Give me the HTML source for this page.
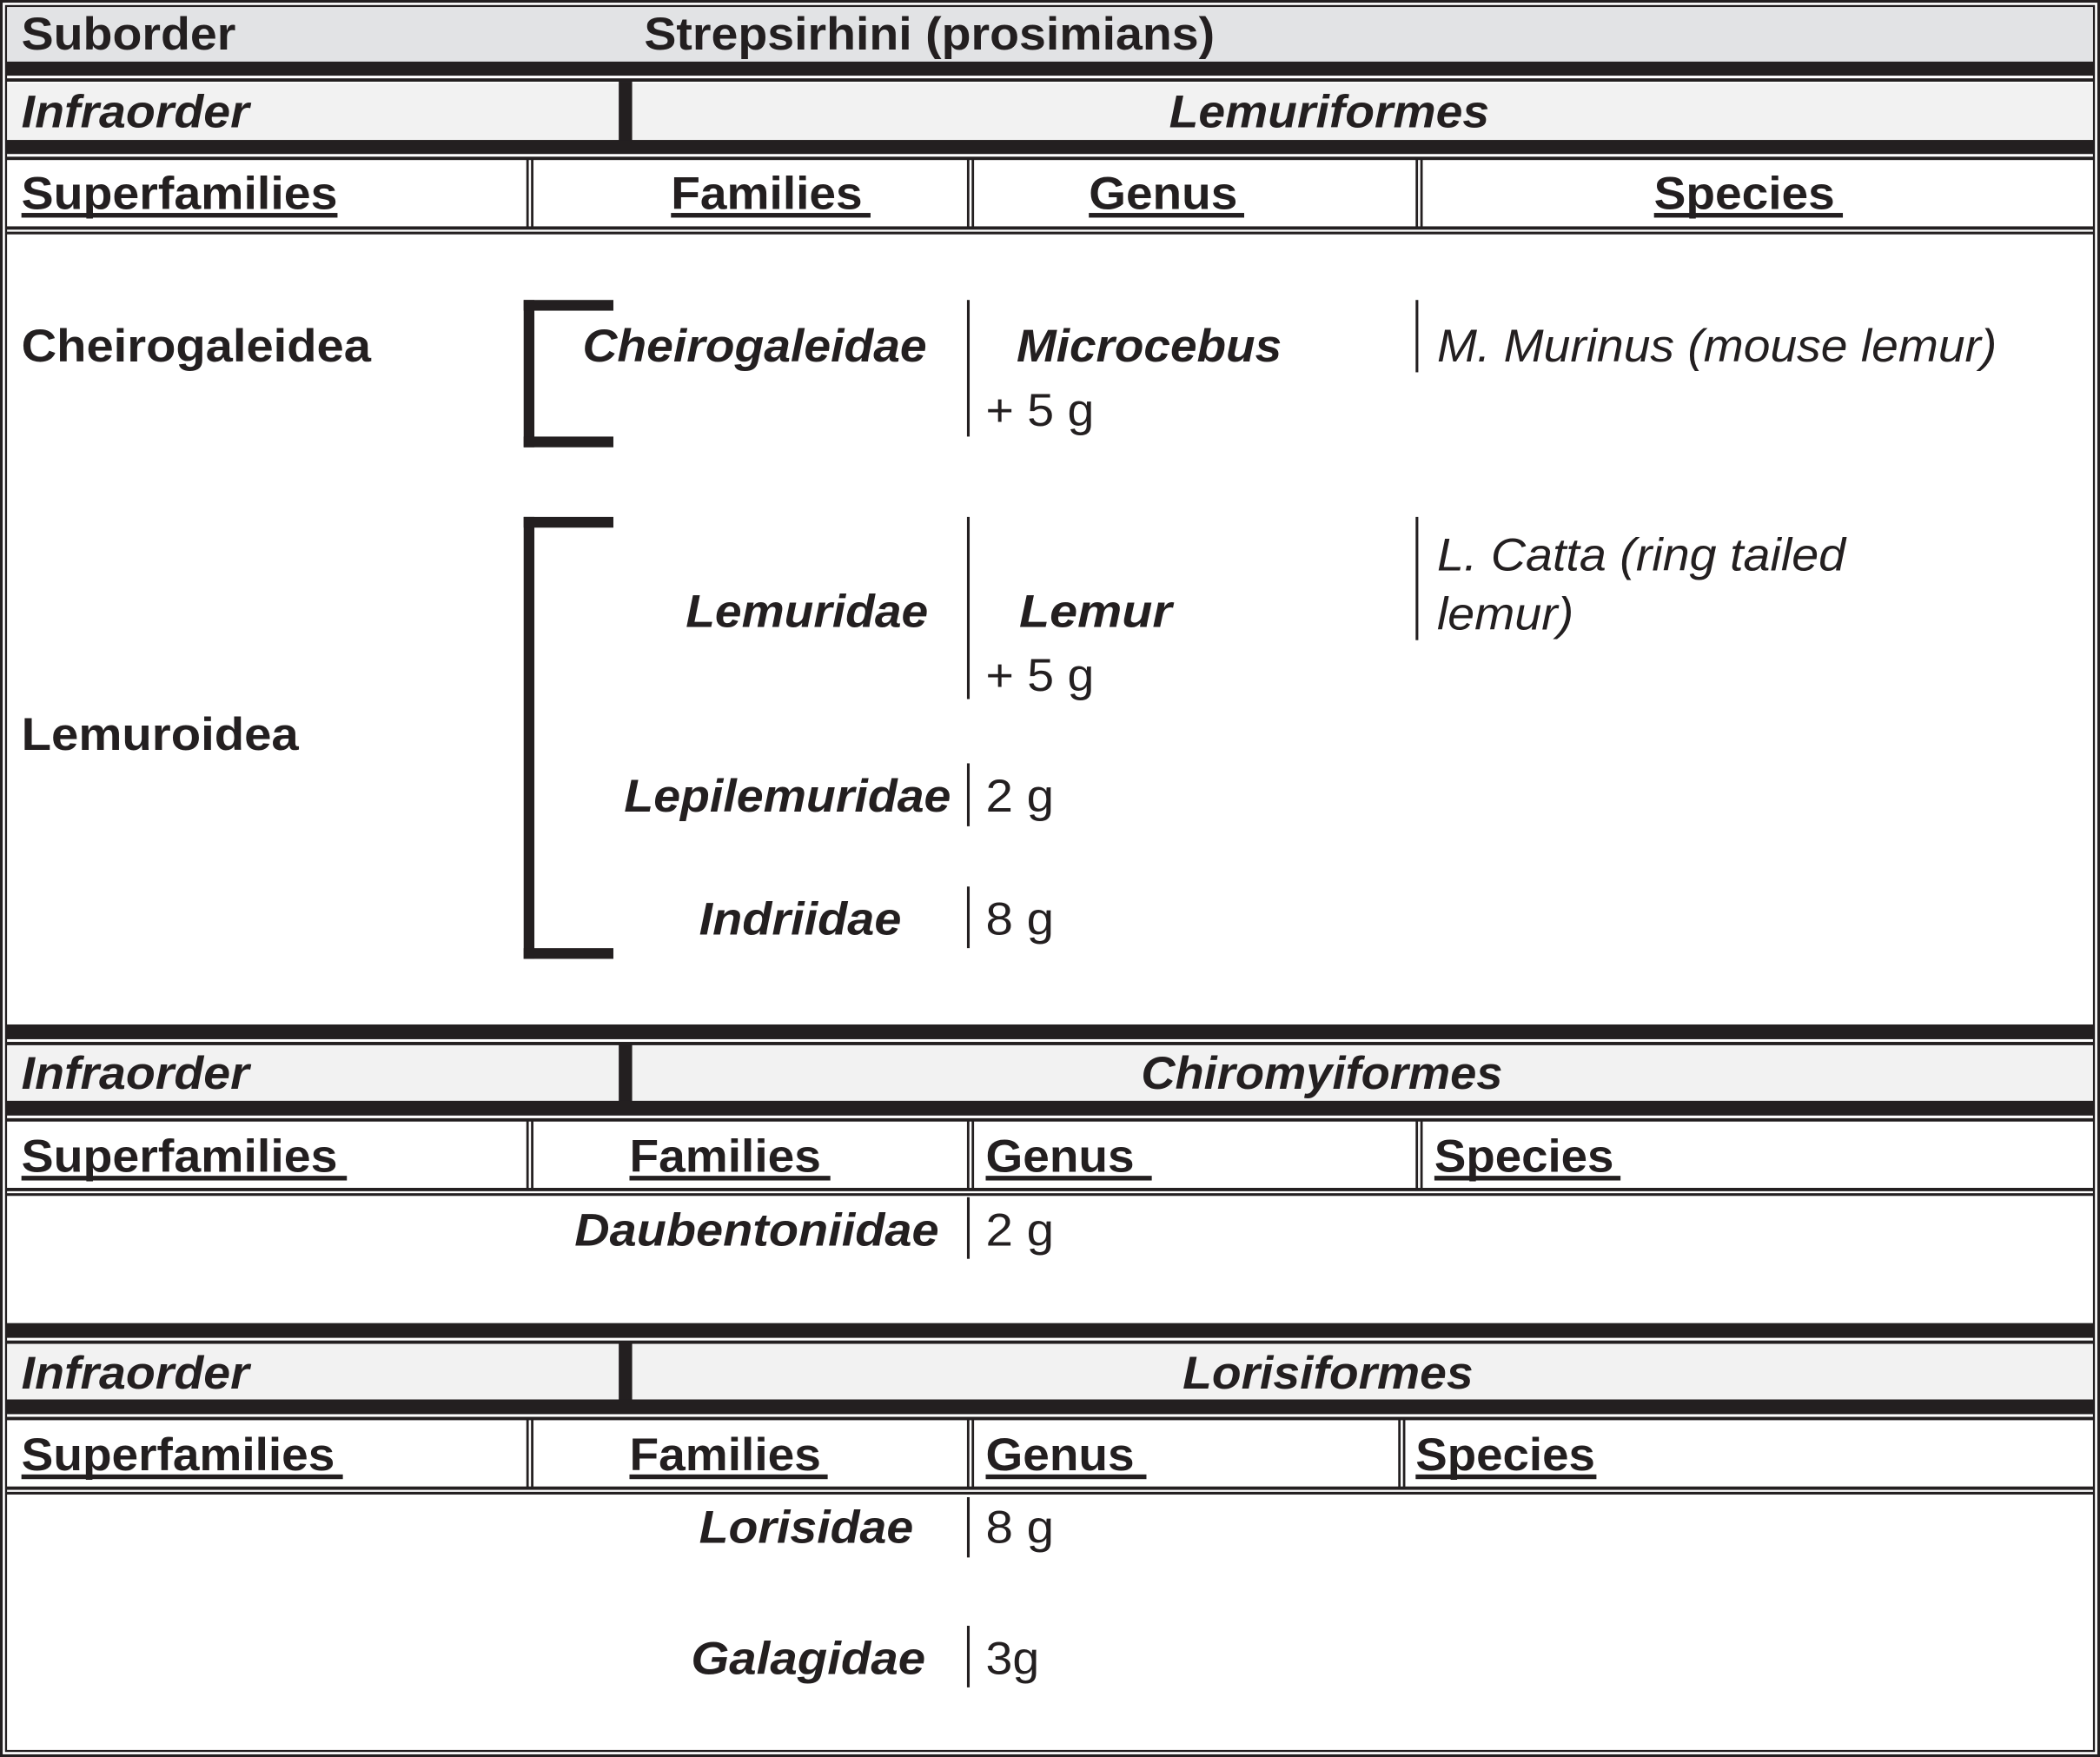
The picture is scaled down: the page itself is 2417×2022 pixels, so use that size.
<!DOCTYPE html>
<html><head><meta charset="utf-8"><style>
html,body{margin:0;padding:0;background:#fff}
svg{display:block}
text{font-family:"Liberation Sans",Arial,sans-serif;fill:#231f20;font-size:34px}
.b{font-weight:bold}.bi{font-weight:bold;font-style:italic}.i{font-style:italic}
</style></head><body>
<svg width="2417" height="2022" viewBox="0 0 1568 1312" preserveAspectRatio="none" xmlns="http://www.w3.org/2000/svg">
<rect x="0" y="0" width="1568" height="1312" fill="#fff"/>
<g fill="#231f20">
<!-- outer double border -->
<rect x="1" y="1" width="1566" height="1310" fill="none" stroke="#231f20" stroke-width="2"/>
<rect x="4.5" y="4.5" width="1559" height="1303" fill="none" stroke="#231f20" stroke-width="1.5"/>

<!-- Section 1 -->
<rect x="5.5" y="5.5" width="1557" height="40.5" fill="#e2e3e5"/>
<rect x="5" y="46" width="1558" height="10.5"/>
<rect x="5" y="58.5" width="1558" height="2.5"/>
<rect x="5.5" y="62" width="1557" height="42.5" fill="#f2f2f2"/>
<rect x="462" y="61" width="10" height="44"/>
<rect x="5" y="104.5" width="1558" height="10.5"/>
<rect x="5" y="117" width="1558" height="2.5"/>
<rect x="5" y="169" width="1558" height="2.5"/>
<rect x="5" y="173" width="1558" height="2"/>
<rect x="393" y="119" width="1.8" height="52"/><rect x="396.5" y="119" width="1.8" height="52"/>
<rect x="722" y="119" width="1.8" height="52"/><rect x="725.5" y="119" width="1.8" height="52"/>
<rect x="1057" y="119" width="1.8" height="52"/><rect x="1060.5" y="119" width="1.8" height="52"/>
<!-- underlines -->
<rect x="16" y="159" width="236" height="3.5"/>
<rect x="501" y="159" width="149" height="3.5"/>
<rect x="813" y="159" width="116" height="3.5"/>
<rect x="1235" y="159" width="141" height="3.5"/>

<!-- brackets -->
<rect x="391" y="224" width="8" height="110"/><rect x="391" y="224" width="67" height="8"/><rect x="391" y="326" width="67" height="8"/>
<rect x="391" y="386" width="8" height="330"/><rect x="391" y="386" width="67" height="8"/><rect x="391" y="708" width="67" height="8"/>
<!-- thin separators -->
<rect x="722" y="224" width="2" height="102"/>
<rect x="1057" y="224" width="2" height="54"/>
<rect x="722" y="386" width="2" height="136"/>
<rect x="1057" y="386" width="2" height="92"/>
<rect x="722" y="570" width="2" height="47"/>
<rect x="722" y="662" width="2" height="46"/>

<!-- Section 2 -->
<rect x="5" y="765" width="1558" height="11"/>
<rect x="5" y="778" width="1558" height="2.5"/>
<rect x="5.5" y="781" width="1557" height="41" fill="#f2f2f2"/>
<rect x="462" y="780" width="10" height="43"/>
<rect x="5" y="822" width="1558" height="11"/>
<rect x="5" y="835" width="1558" height="2.5"/>
<rect x="5" y="887" width="1558" height="2.5"/>
<rect x="5" y="891" width="1558" height="2"/>
<rect x="393" y="837" width="1.8" height="52"/><rect x="396.5" y="837" width="1.8" height="52"/>
<rect x="722" y="837" width="1.8" height="52"/><rect x="725.5" y="837" width="1.8" height="52"/>
<rect x="1057" y="837" width="1.8" height="52"/><rect x="1060.5" y="837" width="1.8" height="52"/>
<rect x="16" y="878" width="243" height="3.5"/>
<rect x="470" y="878" width="150" height="3.5"/>
<rect x="736" y="878" width="124" height="3.5"/>
<rect x="1071" y="878" width="139" height="3.5"/>
<rect x="722" y="894" width="2" height="46"/>

<!-- Section 3 -->
<rect x="5" y="988" width="1558" height="11"/>
<rect x="5" y="1001" width="1558" height="2.5"/>
<rect x="5.5" y="1004" width="1557" height="41" fill="#f2f2f2"/>
<rect x="462" y="1003" width="10" height="43"/>
<rect x="5" y="1045" width="1558" height="11"/>
<rect x="5" y="1058" width="1558" height="2.5"/>
<rect x="5" y="1110" width="1558" height="2.5"/>
<rect x="5" y="1114" width="1558" height="2"/>
<rect x="393" y="1060" width="1.8" height="52"/><rect x="396.5" y="1060" width="1.8" height="52"/>
<rect x="722" y="1060" width="1.8" height="52"/><rect x="725.5" y="1060" width="1.8" height="52"/>
<rect x="1044" y="1060" width="1.8" height="52"/><rect x="1047.5" y="1060" width="1.8" height="52"/>
<rect x="16" y="1101" width="240" height="3.5"/>
<rect x="470" y="1101" width="148" height="3.5"/>
<rect x="736" y="1101" width="120" height="3.5"/>
<rect x="1057" y="1101" width="135" height="3.5"/>
<rect x="722" y="1118" width="2" height="45"/>
<rect x="722" y="1214" width="2" height="46"/>
</g>

<!-- Text -->
<text class="b" x="16" y="37" textLength="160" lengthAdjust="spacingAndGlyphs">Suborder</text>
<text class="b" x="481" y="37" textLength="426" lengthAdjust="spacingAndGlyphs">Strepsirhini (prosimians)</text>
<text class="bi" x="16" y="95" textLength="170" lengthAdjust="spacingAndGlyphs">Infraorder</text>
<text class="bi" x="873" y="95" textLength="239" lengthAdjust="spacingAndGlyphs">Lemuriformes</text>
<text class="b" x="16" y="156" textLength="236" lengthAdjust="spacingAndGlyphs">Superfamilies</text>
<text class="b" x="501" y="156" textLength="143" lengthAdjust="spacingAndGlyphs">Families</text>
<text class="b" x="813" y="156" textLength="111" lengthAdjust="spacingAndGlyphs">Genus</text>
<text class="b" x="1235" y="156" textLength="135" lengthAdjust="spacingAndGlyphs">Species</text>

<text class="b" x="16" y="270" textLength="261" lengthAdjust="spacingAndGlyphs">Cheirogaleidea</text>
<text class="bi" x="435" y="270" textLength="257" lengthAdjust="spacingAndGlyphs">Cheirogaleidae</text>
<text class="bi" x="759" y="270" textLength="198" lengthAdjust="spacingAndGlyphs">Microcebus</text>
<text x="736" y="318" textLength="81" lengthAdjust="spacingAndGlyphs">+ 5 g</text>
<text class="i" x="1073" y="270" textLength="418" lengthAdjust="spacingAndGlyphs">M. Murinus (mouse lemur)</text>

<text class="b" x="16" y="560" textLength="207" lengthAdjust="spacingAndGlyphs">Lemuroidea</text>
<text class="bi" x="512" y="468" textLength="181" lengthAdjust="spacingAndGlyphs">Lemuridae</text>
<text class="bi" x="761" y="468" textLength="114" lengthAdjust="spacingAndGlyphs">Lemur</text>
<text x="736" y="516" textLength="81" lengthAdjust="spacingAndGlyphs">+ 5 g</text>
<text class="i" x="1073" y="426" textLength="305" lengthAdjust="spacingAndGlyphs">L. Catta (ring tailed</text>
<text class="i" x="1073" y="470" textLength="102" lengthAdjust="spacingAndGlyphs">lemur)</text>
<text class="bi" x="466" y="606" textLength="244" lengthAdjust="spacingAndGlyphs">Lepilemuridae</text>
<text x="736" y="606" textLength="51" lengthAdjust="spacingAndGlyphs">2 g</text>
<text class="bi" x="522" y="698" textLength="151" lengthAdjust="spacingAndGlyphs">Indriidae</text>
<text x="736" y="698" textLength="51" lengthAdjust="spacingAndGlyphs">8 g</text>

<text class="bi" x="16" y="813" textLength="170" lengthAdjust="spacingAndGlyphs">Infraorder</text>
<text class="bi" x="852" y="813" textLength="270" lengthAdjust="spacingAndGlyphs">Chiromyiformes</text>
<text class="b" x="16" y="875" textLength="236" lengthAdjust="spacingAndGlyphs">Superfamilies</text>
<text class="b" x="470" y="875" textLength="143" lengthAdjust="spacingAndGlyphs">Families</text>
<text class="b" x="736" y="875" textLength="111" lengthAdjust="spacingAndGlyphs">Genus</text>
<text class="b" x="1071" y="875" textLength="134" lengthAdjust="spacingAndGlyphs">Species</text>
<text class="bi" x="429" y="930" textLength="272" lengthAdjust="spacingAndGlyphs">Daubentoniidae</text>
<text x="736" y="930" textLength="51" lengthAdjust="spacingAndGlyphs">2 g</text>

<text class="bi" x="16" y="1037" textLength="170" lengthAdjust="spacingAndGlyphs">Infraorder</text>
<text class="bi" x="883" y="1037" textLength="217" lengthAdjust="spacingAndGlyphs">Lorisiformes</text>
<text class="b" x="16" y="1098" textLength="234" lengthAdjust="spacingAndGlyphs">Superfamilies</text>
<text class="b" x="470" y="1098" textLength="143" lengthAdjust="spacingAndGlyphs">Families</text>
<text class="b" x="736" y="1098" textLength="111" lengthAdjust="spacingAndGlyphs">Genus</text>
<text class="b" x="1057" y="1098" textLength="134" lengthAdjust="spacingAndGlyphs">Species</text>
<text class="bi" x="522" y="1152" textLength="160" lengthAdjust="spacingAndGlyphs">Lorisidae</text>
<text x="736" y="1152" textLength="51" lengthAdjust="spacingAndGlyphs">8 g</text>
<text class="bi" x="516" y="1250" textLength="175" lengthAdjust="spacingAndGlyphs">Galagidae</text>
<text x="736" y="1250" textLength="40" lengthAdjust="spacingAndGlyphs">3g</text>
</svg>
</body></html>
